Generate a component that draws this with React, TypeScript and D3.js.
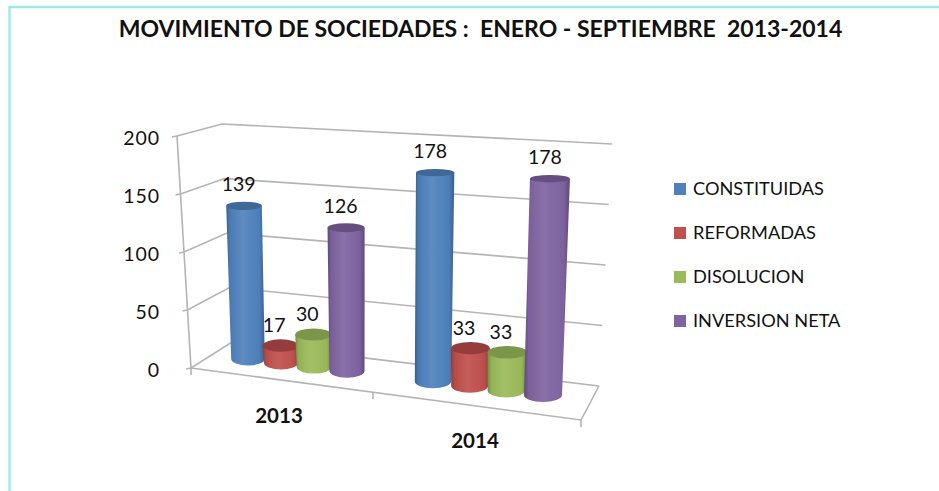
import React from "react";
import * as d3 from "d3";

const title = "MOVIMIENTO DE SOCIEDADES :  ENERO - SEPTIEMBRE  2013-2014";
const categories = ["2013", "2014"];
const seriesNames = ["CONSTITUIDAS", "REFORMADAS", "DISOLUCION", "INVERSION NETA"];
const constituidas = [139, 178];
const reformadas = [17, 33];
const disolucion = [30, 33];
const inversionNeta = [126, 178];
const seriesValues = [constituidas, reformadas, disolucion, inversionNeta];
const seriesColors = ["#4F81BD", "#C0504D", "#9BBB59", "#8064A2"];
const topColors = ["#3F6797", "#953E3C", "#7C9649", "#66507F"];
const yTicks = [0, 50, 100, 150, 200];

const FONT = "Lato, 'Open Sans', sans-serif";
const GRID = "#b4b4b4";

// wall geometry, as scales over the value axis
const frontX = d3.scaleLinear().domain([0, 200]).range([191, 177]);
const frontY = d3.scaleLinear().domain([0, 200]).range([368, 136]);
const backLX = d3.scaleLinear().domain([0, 200]).range([232, 222]);
const backLY = d3.scaleLinear().domain([0, 200]).range([342, 124]);
const backRX = d3.scaleLinear().domain([0, 200]).range([599, 612]);
const backRY = d3.scaleLinear().domain([0, 200]).range([386, 144]);

// bar slots along the floor, with perspective
const slotX = d3.scaleLinear().domain([0, 3, 5.5, 8.5]).range([248, 347, 433, 543]);
const baseY = d3.scaleLinear().domain([248, 543]).range([359, 395]);
const pxPerUnit = d3.scaleLinear().domain([248, 543]).range([1.105, 1.215]);
const shortTrim = d3.scaleLinear().domain([17, 178]).range([1.5, 0]);
const labelGap = d3.scaleLinear().domain([17, 178]).range([13.5, 15]);
const labelShift = d3.scaleLinear().domain([17, 178]).range([6.5, 5]);
const lean = d3.scaleLinear().domain([248, 543]).range([-0.026, 0.032]);
const radius = d3.scaleLinear().domain([248, 543]).range([16.8, 19]);
const ryOf = d3.scaleLinear().domain([170, 400]).range([3.6, 7]);

const slotOf = (cat: number, s: number) => cat * 5.5 + s;
const barHeight = (v: number, x0: number) => v * pxPerUnit(x0) - shortTrim(v);

function shade(c: string, k: number) {
  return k < 1
    ? d3.interpolateRgb(c, "#000")(1 - k)
    : d3.interpolateRgb(c, "#fff")(k - 1);
}

export default function App() {
  return (
    <svg
      width={939}
      height={491}
      viewBox="0 0 939 491"
      style={{ position: "absolute", left: 0, top: 0, background: "#fff" }}
    >
      <defs>
        <filter id="soft" x="-10%" y="-10%" width="120%" height="120%">
          <feGaussianBlur stdDeviation="0.6" />
        </filter>
        {seriesColors.map((c, i) => (
          <linearGradient id={`g${i}`} key={c} x1="0" x2="1" y1="0" y2="0">
            <stop offset="0" stopColor={shade(c, 0.74)} />
            <stop offset="0.1" stopColor={shade(c, 0.95)} />
            <stop offset="0.42" stopColor={shade(c, 1.08)} />
            <stop offset="0.86" stopColor={shade(c, 0.98)} />
            <stop offset="1" stopColor={shade(c, 0.74)} />
          </linearGradient>
        ))}
      </defs>

      {/* page frame */}
      <path d="M9.5 491V7H939" fill="none" stroke="#9BEAEA" strokeWidth={2.4} />

      <text
        x={480.5}
        y={37}
        textAnchor="middle"
        fontFamily={FONT}
        fontWeight={700}
        fontSize={23}
        fill="#111"
        style={{ whiteSpace: "pre" }}
      >
        {title}
      </text>

      <g filter="url(#soft)" fill="none" stroke={GRID} strokeWidth={1.6}>
        {yTicks.map((t) => (
          <g key={t}>
            <path
              d={`M${frontX(t) - 5} ${frontY(t) + 1}L${frontX(t)} ${frontY(t)}L${backLX(t)} ${backLY(t)}L${backRX(t)} ${backRY(t)}`}
            />
          </g>
        ))}
        <path d={`M${frontX(200)} ${frontY(200)}L${frontX(0)} ${frontY(0)}`} />
        <path d={`M${frontX(0)} ${frontY(0)}L581 420L${backRX(0)} ${backRY(0)}`} />
        {[0, 0.4667, 1].map((u) => {
          const x = d3.interpolateNumber(frontX(0), 581)(u);
          const y = d3.interpolateNumber(frontY(0), 420)(u);
          return <path key={u} d={`M${x} ${y}V${y + 7}`} />;
        })}
      </g>

      <g filter="url(#soft)">
        {categories.map((_, ci) =>
          seriesValues.map((vals, si) => {
            const v = vals[ci];
            const x0 = slotX(slotOf(ci, si));
            const y0 = baseY(x0);
            const h = barHeight(v, x0);
            const x1 = x0 + lean(x0) * h;
            const y1 = y0 - h;
            const rb = radius(x0);
            const rt = rb + 1;
            const ryb = ryOf(y0);
            const ryt = ryOf(y1);
            const d = `M${x0 - rb} ${y0}L${x1 - rt} ${y1}L${x1 + rt} ${y1}L${x0 + rb} ${y0}A${rb} ${ryb} 0 0 1 ${x0 - rb} ${y0}Z`;
            return (
              <g key={`${ci}-${si}`}>
                <path d={d} fill={`url(#g${si})`} />
                <ellipse cx={x1} cy={y1} rx={rt} ry={ryt} fill={topColors[si]} />
              </g>
            );
          })
        )}
      </g>

      <g fontFamily={FONT} fontSize={19.5} fill="#111">
        {yTicks.map((t) => (
          <text key={t} x={160} y={frontY(t) + 9} textAnchor="end" letterSpacing={0.9}>
            {t}
          </text>
        ))}
        {categories.map((_, ci) =>
          seriesValues.map((vals, si) => {
            const v = vals[ci];
            const x0 = slotX(slotOf(ci, si));
            const h = barHeight(v, x0);
            const x1 = x0 + lean(x0) * h;
            return (
              <text
                key={`${ci}-${si}`}
                x={x1 - labelShift(v)}
                y={baseY(x0) - h - labelGap(v)}
                textAnchor="middle"
              >
                {v}
              </text>
            );
          })
        )}
      </g>

      <g fontFamily={FONT} fontWeight={700} fontSize={20.5} fill="#111" textAnchor="middle">
        <text x={279} y={423}>{categories[0]}</text>
        <text x={475} y={448}>{categories[1]}</text>
      </g>

      <g fontFamily={FONT} fontSize={18.2} fill="#111">
        {seriesNames.map((n, i) => {
          const y = d3.scaleLinear().domain([0, 3]).range([189, 321])(i);
          return (
            <g key={n}>
              <rect x={674} y={y - 6} width={12} height={12} fill={seriesColors[i]} />
              <text x={693} y={y + 6}>{n}</text>
            </g>
          );
        })}
      </g>
    </svg>
  );
}
